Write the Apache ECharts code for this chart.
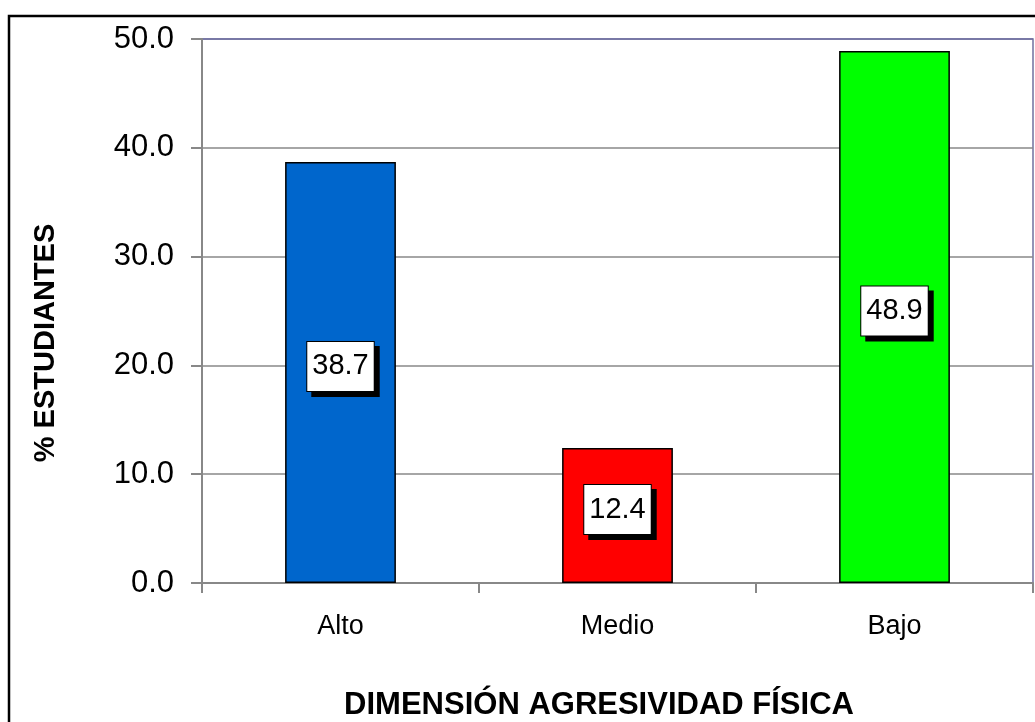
<!DOCTYPE html>
<html>
<head>
<meta charset="utf-8">
<script src="https://cdn.jsdelivr.net/npm/echarts@6/dist/echarts.min.js"></script>
<style>
  html, body { margin: 0; padding: 0; background: #fff; }
  #chart { width: 1035px; height: 722px; }
</style>
</head>
<body>
<div id="chart"></div>
<script>
// datos
var categorias = ['Alto', 'Medio', 'Bajo'];
var porcentajes = [38.7, 12.4, 48.9];
var coloresBarra = ['#0066cc', '#ff0000', '#00ff00'];
var yTicks = [0, 10, 20, 30, 40, 50];

var myChart = echarts.init(document.getElementById('chart'));
var fuente = '"Liberation Sans", Arial, sans-serif';

var option = {
  backgroundColor: '#fff',
  animation: false,
  grid: {
    left: 202,
    top: 39,
    right: 2,
    bottom: 139,
    show: true,
    borderColor: '#7070a0',
    borderWidth: 1.5
  },
  xAxis: {
    type: 'category',
    data: categorias,
    axisLine: { lineStyle: { color: '#888', width: 2 } },
    axisTick: { show: true, length: 10, lineStyle: { color: '#888', width: 2 } },
    axisLabel: { color: '#000', fontFamily: fuente, fontSize: 27, margin: 30 }
  },
  yAxis: {
    type: 'value',
    min: yTicks[0],
    max: yTicks[yTicks.length - 1],
    interval: 10,
    axisLine: { show: true, lineStyle: { color: '#888', width: 2 } },
    axisTick: { show: true, length: 11, lineStyle: { color: '#888', width: 2 } },
    axisLabel: {
      color: '#000', fontFamily: fuente, fontSize: 31, margin: 28,
      formatter: function (v) { return v.toFixed(1); }
    },
    splitLine: {
      show: true,
      lineStyle: { color: ['#888', '#888', '#888', '#888', '#888', '#7070a0'], width: 1.5 }
    }
  },
  series: [{
    type: 'bar',
    data: porcentajes.map(function (v, i) {
      return { value: v, itemStyle: { color: coloresBarra[i] } };
    }),
    barWidth: '40%',
    itemStyle: { borderColor: '#000', borderWidth: 1.5 },
    label: {
      show: true,
      position: 'inside',
      offset: [0, -6],
      formatter: function (p) { return p.value.toFixed(1); },
      color: '#000',
      fontFamily: fuente,
      fontSize: 29,
      backgroundColor: '#fff',
      borderColor: '#000',
      borderWidth: 1,
      padding: [11, 5, 9, 5],
      shadowColor: '#000',
      shadowBlur: 0,
      shadowOffsetX: 5,
      shadowOffsetY: 5
    }
  }],
  graphic: [
    {
      type: 'rect',
      shape: { x: 9, y: 16, width: 1100, height: 800 },
      style: { fill: 'none', stroke: '#000', lineWidth: 2.5 },
      silent: true
    },
    {
      type: 'text',
      x: 46,
      y: 343,
      rotation: Math.PI / 2,
      style: {
        text: '% ESTUDIANTES',
        font: 'bold 29px ' + fuente,
        fill: '#000',
        align: 'center',
        verticalAlign: 'middle'
      }
    },
    {
      type: 'text',
      x: 599,
      y: 705,
      style: {
        text: 'DIMENSIÓN AGRESIVIDAD FÍSICA',
        font: 'bold 31px ' + fuente,
        fill: '#000',
        align: 'center',
        verticalAlign: 'middle'
      }
    }
  ]
};

myChart.setOption(option);
</script>
</body>
</html>
